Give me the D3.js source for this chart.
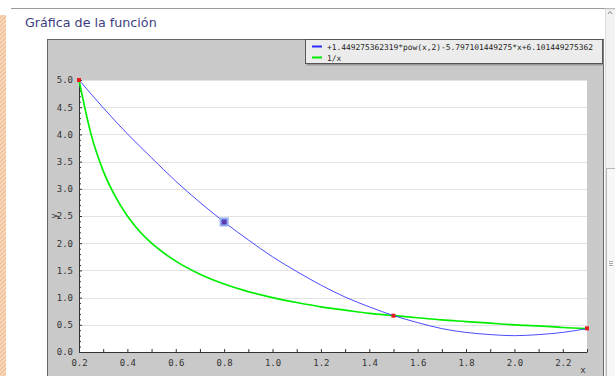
<!DOCTYPE html>
<html>
<head>
<meta charset="utf-8">
<script src="https://cdn.jsdelivr.net/npm/d3@7"></script>
<style>
  html, body { margin: 0; padding: 0; background: #fff; overflow: hidden; }
  svg { display: block; }
</style>
</head>
<body>
<div id="chart"></div>
<script>
// values
const polyX = [0.2, 0.3, 0.4, 0.5, 0.6, 0.7, 0.8, 0.9, 1.0, 1.1, 1.2, 1.3, 1.4, 1.5, 1.6, 1.7, 1.8, 1.9, 2.0, 2.1, 2.2, 2.3];
const polyY = [5.00, 4.49, 4.01, 3.57, 3.14, 2.75, 2.39, 2.06, 1.75, 1.48, 1.23, 1.01, 0.83, 0.67, 0.54, 0.43, 0.36, 0.32, 0.30, 0.32, 0.36, 0.43];
const invX = [0.2, 0.25, 0.3, 0.35, 0.4, 0.45, 0.5, 0.6, 0.7, 0.8, 0.9, 1.0, 1.1, 1.2, 1.3, 1.4, 1.5, 1.6, 1.7, 1.8, 1.9, 2.0, 2.1, 2.2, 2.3];
const invY = [5.00, 4.00, 3.33, 2.86, 2.50, 2.22, 2.00, 1.67, 1.43, 1.25, 1.11, 1.00, 0.91, 0.83, 0.77, 0.71, 0.67, 0.63, 0.59, 0.56, 0.53, 0.50, 0.48, 0.45, 0.43];
const seriesNames = ["+1.449275362319*pow(x,2)-5.797101449275*x+6.101449275362", "1/x"];
const seriesColors = ["#2b2bff", "#00ee00"];
const redPoints = [[0.2, 5.0], [1.5, 0.667], [2.3, 0.435]];
const bluePoint = [0.8, 2.39];
const xTicks = [0.2, 0.4, 0.6, 0.8, 1.0, 1.2, 1.4, 1.6, 1.8, 2.0, 2.2];
const xMinor = [0.3, 0.5, 0.7, 0.9, 1.1, 1.3, 1.5, 1.7, 1.9, 2.1, 2.3];
const yTicks = [0, 0.5, 1.0, 1.5, 2.0, 2.5, 3.0, 3.5, 4.0, 4.5, 5.0];

const W = 615, H = 376;
const plot = { left: 79, right: 587, top: 80, bottom: 352 };

const svg = d3.select("#chart").append("svg")
    .attr("width", W).attr("height", H);

// striped left edge
const defs = svg.append("defs");
const pat = defs.append("pattern")
    .attr("id", "hatch").attr("width", 3).attr("height", 3)
    .attr("patternUnits", "userSpaceOnUse")
    .attr("patternTransform", "rotate(45)");
pat.append("rect").attr("width", 3).attr("height", 3).attr("fill", "#fbe3cf");
pat.append("rect").attr("width", 1.5).attr("height", 3).attr("fill", "#f0b98c");
svg.append("rect").attr("x", 0).attr("y", 15).attr("width", 6).attr("height", H - 15)
    .attr("fill", "url(#hatch)");

// top rule + title
svg.append("line").attr("x1", 11).attr("x2", W).attr("y1", 8.5).attr("y2", 8.5)
    .attr("stroke", "#9a9a9a");
svg.append("text").attr("x", 25).attr("y", 27)
    .style("font-family", "DejaVu Sans, Verdana, sans-serif")
    .style("font-size", "12.7px")
    .style("fill", "#3d3d7e")
    .text("Gráfica de la función");

// scrollbar on the right
svg.append("rect").attr("x", 605.5).attr("y", 9).attr("width", 10).attr("height", H - 9)
    .attr("fill", "#f2f2f2").attr("stroke", "#dcdcdc");
svg.append("rect").attr("x", 606.5).attr("y", 168.5).attr("width", 9).attr("height", H - 168)
    .attr("fill", "#f7f7f7").attr("stroke", "#b8b8b8");
svg.append("path").attr("d", "M608,14 l2,-2.5 l2,2.5").attr("fill", "none").attr("stroke", "#888");
[261, 263, 265].forEach(yy => svg.append("line").attr("x1", 609).attr("x2", 613)
    .attr("y1", yy + 0.5).attr("y2", yy + 0.5).attr("stroke", "#aaa"));

// grey chart panel
svg.append("rect").attr("x", 47.5).attr("y", 39.5).attr("width", 556).attr("height", H)
    .attr("fill", "#c9c9c9").attr("stroke", "#666");

// legend
const legend = svg.append("g").attr("transform", "translate(305,39)");
legend.append("rect").attr("x", 1.5).attr("y", 1.5).attr("width", 297).attr("height", 25)
    .attr("fill", "#999");
legend.append("rect").attr("x", 0.5).attr("y", 0.5).attr("width", 297).attr("height", 24)
    .attr("fill", "#ececec").attr("stroke", "#555");
seriesNames.forEach((name, i) => {
    legend.append("line").attr("x1", 7).attr("x2", 17)
        .attr("y1", 7.5 + i * 11).attr("y2", 7.5 + i * 11)
        .attr("stroke", seriesColors[i]).attr("stroke-width", 2);
    legend.append("text").attr("x", 22).attr("y", 10.5 + i * 11)
        .style("font-family", "DejaVu Sans Mono, monospace")
        .style("font-size", "7.9px")
        .style("fill", "#222")
        .text(name);
});

// scales
const x = d3.scaleLinear().domain([0.2, 2.3]).range([plot.left, plot.right]);
const y = d3.scaleLinear().domain([0, 5]).range([plot.bottom, plot.top]);

// plot background and grid
svg.append("rect").attr("x", plot.left).attr("y", plot.top)
    .attr("width", plot.right - plot.left).attr("height", plot.bottom - plot.top)
    .attr("fill", "#fff");
svg.append("g").selectAll("line")
    .data(yTicks.filter(d => d > 0))
    .join("line")
    .attr("x1", plot.left).attr("x2", plot.right)
    .attr("y1", d => Math.round(y(d)) + 0.5).attr("y2", d => Math.round(y(d)) + 0.5)
    .attr("stroke", "#e2e2e2");

// axes
const tickFont = g => g.selectAll("text")
    .style("font-family", "DejaVu Sans Mono, monospace")
    .style("font-size", "9px")
    .style("fill", "#333");

svg.append("g")
    .attr("transform", `translate(${plot.left},0)`)
    .call(d3.axisLeft(y).tickValues(yTicks).tickFormat(d3.format(".1f"))
        .tickSize(-3).tickSizeOuter(0).tickPadding(6))
    .call(tickFont);
svg.append("g")
    .attr("transform", `translate(${plot.left},0)`)
    .call(d3.axisLeft(y).tickValues(d3.range(0.1, 5, 0.1).filter(v => Math.abs(v * 2 - Math.round(v * 2)) > 0.01))
        .tickFormat("").tickSize(-2).tickSizeOuter(0))
    .call(g => g.select(".domain").remove());

svg.append("g")
    .attr("transform", `translate(0,${plot.bottom})`)
    .call(d3.axisBottom(x).tickValues(xTicks).tickFormat(d3.format(".1f"))
        .tickSize(-3).tickSizeOuter(0).tickPadding(8))
    .call(tickFont);
svg.append("g")
    .attr("transform", `translate(0,${plot.bottom})`)
    .call(d3.axisBottom(x).tickValues(xMinor).tickFormat("").tickSize(-3).tickSizeOuter(0))
    .call(g => g.select(".domain").remove());

svg.selectAll(".domain").attr("stroke", "#333");
svg.selectAll(".tick line").attr("stroke", "#333");

// axis names
svg.append("text").attr("x", 583).attr("y", 373)
    .attr("text-anchor", "middle")
    .style("font-family", "DejaVu Sans Mono, monospace").style("font-size", "9px").style("fill", "#333")
    .text("x");
svg.append("text")
    .attr("transform", `translate(57,${y(2.5)}) rotate(-90)`)
    .attr("text-anchor", "middle")
    .style("font-family", "DejaVu Sans Mono, monospace").style("font-size", "9px").style("fill", "#333")
    .text("y");

// curves
const line = d3.line().x(d => x(d[0])).y(d => y(d[1])).curve(d3.curveMonotoneX);
svg.append("path")
    .datum(invX.map((v, i) => [v, invY[i]]))
    .attr("d", line)
    .attr("fill", "none").attr("stroke", seriesColors[1]).attr("stroke-width", 1.7);
svg.append("path")
    .datum(polyX.map((v, i) => [v, polyY[i]]))
    .attr("d", line)
    .attr("fill", "none").attr("stroke", seriesColors[0]).attr("stroke-width", 1).attr("opacity", 0.85);

// markers
svg.append("rect")
    .attr("x", x(bluePoint[0]) - 4.5).attr("y", y(bluePoint[1]) - 4.5)
    .attr("width", 9).attr("height", 9).attr("fill", "#92aef0");
svg.append("rect")
    .attr("x", x(bluePoint[0]) - 2.5).attr("y", y(bluePoint[1]) - 2.5)
    .attr("width", 5).attr("height", 5).attr("fill", "#5a3cb4");
svg.append("g").selectAll("rect")
    .data(redPoints)
    .join("rect")
    .attr("x", d => x(d[0]) - 2).attr("y", d => y(d[1]) - 2)
    .attr("width", 4).attr("height", 4)
    .attr("fill", "#e02020");
</script>
</body>
</html>
